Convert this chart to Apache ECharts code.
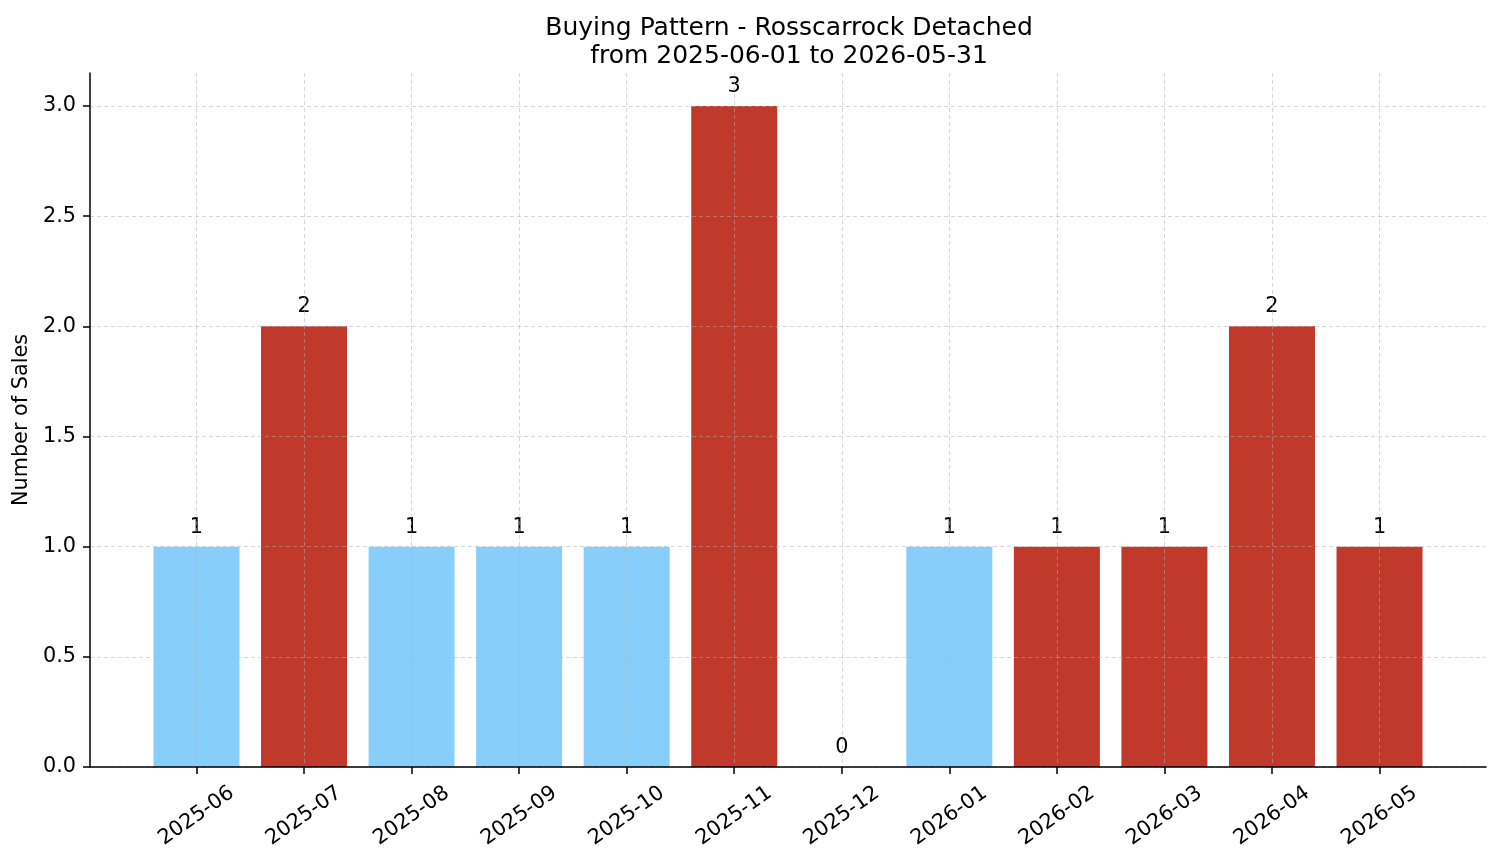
<!DOCTYPE html>
<html>
<head>
<meta charset="utf-8">
<script src="https://cdn.jsdelivr.net/npm/echarts@6/dist/echarts.min.js"></script>
<style>
  html, body { margin: 0; padding: 0; background: #fff; }
  #chart { width: 1501px; height: 863px; }
</style>
</head>
<body>
<div id="chart"></div>
<script>
// month labels and sales counts
const months = ['2025-06', '2025-07', '2025-08', '2025-09', '2025-10', '2025-11',
                '2025-12', '2026-01', '2026-02', '2026-03', '2026-04', '2026-05'];
const sales = [1, 2, 1, 1, 1, 3, 0, 1, 1, 1, 2, 1];
// which bars are red (the rest are light blue)
const isRed = [false, true, false, false, false, true, false, false, true, true, true, true];
const yTicks = [0, 0.5, 1, 1.5, 2, 2.5, 3];

const RED = '#c0392b';
const BLUE = '#87cefa';
const GRID = 'rgba(176,176,176,0.5)';
const FONT = 'DejaVu Sans';

const chart = echarts.init(document.getElementById('chart'));

const xIdx = months.map((m, i) => i);

const option = {
  animation: false,
  textStyle: { fontFamily: FONT },
  title: {
    text: 'Buying Pattern - Rosscarrock Detached\nfrom 2025-06-01 to 2026-05-31',
    left: 784,
    top: 9,
    textAlign: 'center',
    textStyle: { fontFamily: FONT, fontSize: 25, fontWeight: 'normal', color: '#000', lineHeight: 28 }
  },
  grid: { left: 90, right: 15, top: 73, bottom: 96, outerBoundsMode: 'none', containLabel: false },
  xAxis: {
    type: 'value',
    min: -0.99,
    max: 11.99,
    z: 3,
    axisLine: { onZero: false, lineStyle: { color: '#000', width: 1.5 } },
    axisTick: { customValues: xIdx, length: 7, lineStyle: { color: '#000', width: 1.5 } },
    axisLabel: {
      customValues: xIdx,
      rotate: 35,
      align: 'center',
      verticalAlign: 'middle',
      margin: 49,
      fontSize: 20.8,
      color: '#000',
      fontFamily: FONT,
      formatter: v => months[Math.round(v)] || ''
    },
    splitLine: { show: true, customValues: xIdx, lineStyle: { color: GRID, type: [4, 3], width: 1 } }
  },
  yAxis: {
    type: 'value',
    min: 0,
    max: 3.15,
    z: 3,
    name: 'Number of Sales',
    nameLocation: 'middle',
    nameRotate: 90,
    nameGap: 57,
    nameTextStyle: { fontSize: 20.8, color: '#000', fontFamily: FONT },
    axisLine: { show: true, onZero: false, lineStyle: { color: '#000', width: 1.5 } },
    axisTick: { show: true, customValues: yTicks, length: 7, lineStyle: { color: '#000', width: 1.5 } },
    axisLabel: {
      customValues: yTicks,
      margin: 14,
      fontSize: 20.8,
      color: '#000',
      fontFamily: FONT,
      formatter: v => v.toFixed(1)
    },
    splitLine: { show: true, customValues: yTicks, lineStyle: { color: GRID, type: [4, 3], width: 1 } }
  },
  series: [{
    type: 'bar',
    barWidth: 86,
    z: 2,
    data: sales.map((v, i) => ({
      value: [i, v],
      itemStyle: { color: isRed[i] ? RED : BLUE }
    })),
    label: {
      show: true,
      position: 'top',
      distance: 9,
      fontSize: 20.8,
      color: '#000',
      fontFamily: FONT,
      formatter: p => String(p.value[1])
    }
  }]
};

chart.setOption(option);
</script>
</body>
</html>
